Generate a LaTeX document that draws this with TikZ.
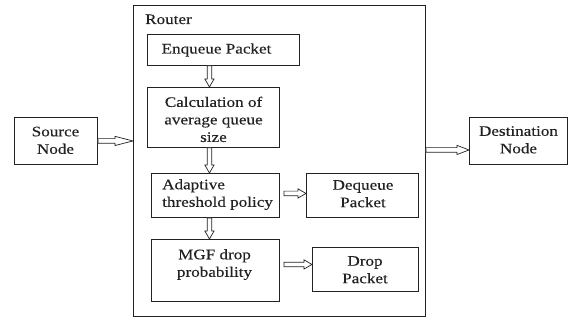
\documentclass[tikz,border=0pt]{standalone}
\usepackage{fontspec}
\setmainfont{Liberation Serif}[FakeStretch=1.18, FakeBold=0.35]
\usetikzlibrary{calc}
\definecolor{ink}{HTML}{222222}

% Hollow block arrow from #2 to #3, head length #1
\newcommand\hollowarrow[3][8pt]{%
  \path (#2) coordinate (ha-s) (#3) coordinate (ha-t);
  \path ($(ha-t)!#1!(ha-s)$) coordinate (ha-h);
  \draw[arrowline]
    ($(ha-s)!2.3pt!90:(ha-t)$) -- ($(ha-h)!2.3pt!-90:(ha-s)$)
    -- ($(ha-h)!4.6pt!-90:(ha-s)$) -- (ha-t)
    -- ($(ha-h)!4.6pt!90:(ha-s)$) -- ($(ha-h)!2.3pt!90:(ha-s)$)
    -- ($(ha-s)!2.3pt!-90:(ha-t)$) -- cycle;
}

\begin{document}
\begin{tikzpicture}[x=1pt, y=-1pt,
  box/.style={draw=ink, line width=0.9pt, inner sep=0pt, anchor=north west},
  lbl/.style={inner sep=0pt, align=center, text=ink,
    font=\fontsize{14.5}{17.5}\selectfont},
  arrowline/.style={draw=ink, line width=0.7pt, fill=white, line join=miter}]
\useasboundingbox (0,0) rectangle (569,320);

% outer router frame and the blocks
\node[box, minimum width=292pt, minimum height=311pt] (router) at (133,5) {};
\node[box, minimum width=152pt, minimum height=31pt] (enq) at (147,34) {};
\node[box, minimum width=132pt, minimum height=60pt] (calc) at (147,87) {};
\node[box, minimum width=128pt, minimum height=44pt] (adapt) at (151,173) {};
\node[box, minimum width=128pt, minimum height=62pt] (mgf) at (151,239) {};
\node[box, minimum width=112pt, minimum height=44pt] (deq) at (306,173) {};
\node[box, minimum width=106pt, minimum height=44pt] (drop) at (312,247) {};
\node[box, minimum width=83pt, minimum height=47pt] (src) at (14,117) {};
\node[box, minimum width=98pt, minimum height=47pt] (dst) at (469,117) {};

% labels
\node[lbl, anchor=base west] (t-router) at (145,24) {Router};
\node[lbl, anchor=base] (t-enq) at (216.5,53.5) {Enqueue Packet};
\node[lbl, anchor=north] (t-calc) at (213.5,96.5) {Calculation of\\average queue\\size};
\node[lbl, anchor=north west, align=left] (t-adapt) at (162,179) {Adaptive\\threshold policy};
\node[lbl, anchor=north] (t-mgf) at (214.5,249) {MGF drop\\probability};
\node[lbl, anchor=north] (t-deq) at (363,180) {Dequeue\\Packet};
\node[lbl, anchor=north] (t-drop) at (365,256) {Drop\\Packet};
\node[lbl, anchor=north] (t-src) at (55.5,126.5) {Source\\Node};
\node[lbl, anchor=north] (t-dst) at (518.5,126) {Destination\\Node};

% connectors
\hollowarrow[18pt]{src.east}{router.west |- src.east}
\coordinate (dst-in) at ([yshift=-9pt]dst.west);
\hollowarrow[12pt]{router.east |- dst-in}{dst-in}
\coordinate (v1) at ([xshift=-4pt]calc.north);
\hollowarrow{enq.south -| v1}{v1}
\coordinate (v2) at ([xshift=-4pt]calc.south);
\hollowarrow{v2}{adapt.north -| v2}
\coordinate (v3) at ([xshift=-6pt]adapt.south);
\hollowarrow{v3}{mgf.north -| v3}
\coordinate (h1) at ([xshift=4pt,yshift=2pt]adapt.east);
\hollowarrow{h1}{deq.west |- h1}
\coordinate (h2) at ([xshift=4pt,yshift=6pt]mgf.east);
\hollowarrow{h2}{drop.west |- h2}
\end{tikzpicture}
\end{document}
